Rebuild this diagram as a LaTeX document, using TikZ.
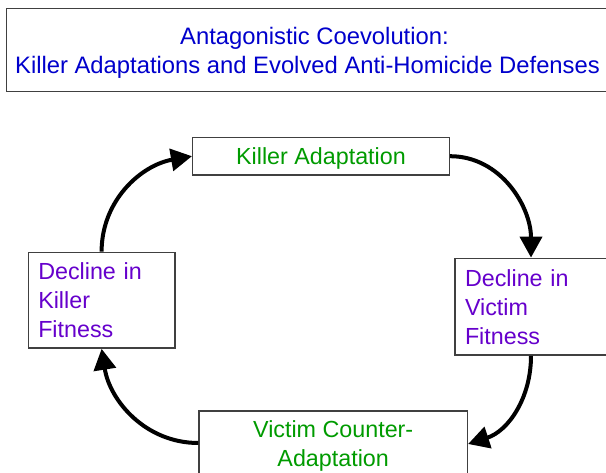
\documentclass[tikz,border=0pt]{standalone}
\usepackage{fontspec}
\setmainfont{Liberation Sans}
\usetikzlibrary{arrows.meta}
\definecolor{titleblue}{RGB}{0,0,204}
\definecolor{adaptgreen}{RGB}{0,155,0}
\definecolor{declinepurple}{RGB}{102,0,204}
\definecolor{boxgray}{RGB}{64,64,64}
\tikzset{
  framebox/.style={draw=boxgray, line width=1.5pt, fill=white, inner sep=0pt},
  adaptbox/.style={framebox, text=adaptgreen, align=center,
    font=\fontsize{23.3}{28.7}\selectfont},
  declinebox/.style={framebox, text=declinepurple, align=left,
    inner xsep=10pt, font=\fontsize{23.3}{29}\selectfont},
  cyclearrow/.style={line width=4pt, -{Triangle[length=21pt,width=22pt]}},
  titletextstyle/.style={text=titleblue, align=center, inner sep=0pt,
    font=\fontsize{23.8}{29}\selectfont}
}
\begin{document}
\begin{tikzpicture}[x=1pt,y=-1pt]
\useasboundingbox (0,0) rectangle (606,473);
% title
\node[framebox, minimum width=620pt, minimum height=83.4pt] (title) at (316.7,50) {};
\node[titletextstyle] (titletext) at (307.5,52.6)
  {\hspace*{14pt}Antagonistic Coevolution:\\Killer Adaptations and Evolved Anti-Homicide Defenses};
% boxes
\node[adaptbox, minimum width=256.6pt, minimum height=37.7pt, text height=17pt, text depth=0pt]
  (ka) at (321,156.2) {Killer Adaptation};
\node[declinebox, minimum width=146.7pt, minimum height=95.7pt, text width=126.7pt]
  (dk) at (101.6,300.2) {Decline in\\Killer\\Fitness};
\node[declinebox, minimum width=152pt, minimum height=96.7pt, text width=132pt]
  (dv) at (531,306.7) {Decline in\\Victim\\Fitness};
\node[adaptbox, minimum width=268.3pt, minimum height=70pt]
  (vca) at (333.2,446) {Victim Counter-\\Adaptation};
% connectors
\draw[cyclearrow] (dk.north) to[out=90,in=190] (ka.west);
\draw[cyclearrow] (ka.east) to[out=0,in=90] (dv.north);
\draw[cyclearrow] (dv.south) to[out=-90,in=18] ([yshift=2pt]vca.east);
\draw[cyclearrow] ([yshift=3pt]vca.west) to[out=180,in=-81] (dk.south);
\end{tikzpicture}
\end{document}
